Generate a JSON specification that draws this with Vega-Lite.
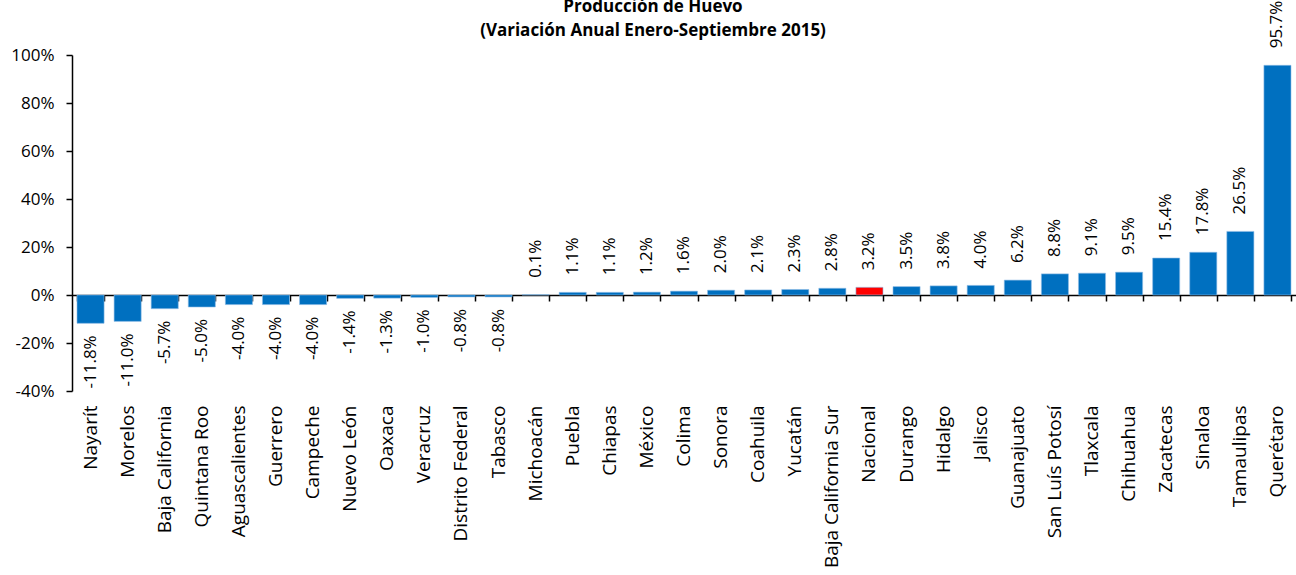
{
  "$schema": "https://vega.github.io/schema/vega-lite/v6.json",
  "width": 1224,
  "height": 336,
  "autosize": {"type": "none"},
  "padding": {"left": 72, "top": 55, "right": 0, "bottom": 184},
  "background": "white",
  "title": {
    "text": ["Producción de Huevo", "(Variación Anual Enero-Septiembre 2015)"],
    "font": "Open Sans",
    "fontSize": 17,
    "fontWeight": "bold",
    "color": "black",
    "anchor": "middle",
    "dx": -31,
    "offset": -39,
    "lineHeight": 24
  },
  "config": {
    "view": {"stroke": null},
    "font": "Open Sans",
    "locale": {"number": {"decimal": ".", "thousands": ",", "grouping": [3], "currency": ["$", ""], "minus": "-"}}
  },
  "data": {
    "values": [
      {"estado": "Nayarít", "valor": -0.118, "tipo": "estado"},
      {"estado": "Morelos", "valor": -0.110, "tipo": "estado"},
      {"estado": "Baja California", "valor": -0.057, "tipo": "estado"},
      {"estado": "Quintana Roo", "valor": -0.050, "tipo": "estado"},
      {"estado": "Aguascalientes", "valor": -0.040, "tipo": "estado"},
      {"estado": "Guerrero", "valor": -0.040, "tipo": "estado"},
      {"estado": "Campeche", "valor": -0.040, "tipo": "estado"},
      {"estado": "Nuevo León", "valor": -0.014, "tipo": "estado"},
      {"estado": "Oaxaca", "valor": -0.013, "tipo": "estado"},
      {"estado": "Veracruz", "valor": -0.010, "tipo": "estado"},
      {"estado": "Distrito Federal", "valor": -0.008, "tipo": "estado"},
      {"estado": "Tabasco", "valor": -0.008, "tipo": "estado"},
      {"estado": "Michoacán", "valor": 0.001, "tipo": "estado"},
      {"estado": "Puebla", "valor": 0.011, "tipo": "estado"},
      {"estado": "Chiapas", "valor": 0.011, "tipo": "estado"},
      {"estado": "México", "valor": 0.012, "tipo": "estado"},
      {"estado": "Colima", "valor": 0.016, "tipo": "estado"},
      {"estado": "Sonora", "valor": 0.020, "tipo": "estado"},
      {"estado": "Coahuila", "valor": 0.021, "tipo": "estado"},
      {"estado": "Yucatán", "valor": 0.023, "tipo": "estado"},
      {"estado": "Baja California Sur", "valor": 0.028, "tipo": "estado"},
      {"estado": "Nacional", "valor": 0.032, "tipo": "nacional"},
      {"estado": "Durango", "valor": 0.035, "tipo": "estado"},
      {"estado": "Hidalgo", "valor": 0.038, "tipo": "estado"},
      {"estado": "Jalisco", "valor": 0.040, "tipo": "estado"},
      {"estado": "Guanajuato", "valor": 0.062, "tipo": "estado"},
      {"estado": "San Luís Potosí", "valor": 0.088, "tipo": "estado"},
      {"estado": "Tlaxcala", "valor": 0.091, "tipo": "estado"},
      {"estado": "Chihuahua", "valor": 0.095, "tipo": "estado"},
      {"estado": "Zacatecas", "valor": 0.154, "tipo": "estado"},
      {"estado": "Sinaloa", "valor": 0.178, "tipo": "estado"},
      {"estado": "Tamaulipas", "valor": 0.265, "tipo": "estado"},
      {"estado": "Querétaro", "valor": 0.957, "tipo": "estado"}
    ]
  },
  "resolve": {"axis": {"x": "independent"}},
  "layer": [
    {
      "mark": {"type": "bar", "stroke": "#8fbce6", "strokeWidth": 0.6},
      "encoding": {
        "x": {
          "field": "estado", "type": "nominal", "sort": null,
          "scale": {"paddingInner": 0.27, "paddingOuter": 0.135},
          "axis": {
            "orient": "bottom", "title": null, "labelAngle": -90,
            "labelAlign": "right", "labelBaseline": "middle",
            "labelFontSize": 19, "labelColor": "black", "labelPadding": 14,
            "domain": false, "ticks": false, "labelOverlap": false
          }
        },
        "y": {
          "field": "valor", "type": "quantitative",
          "scale": {"domain": [-0.4, 1], "nice": false, "zero": true},
          "axis": {
            "values": [-0.4, -0.2, 0, 0.2, 0.4, 0.6, 0.8, 1],
            "format": ".0%", "title": null, "grid": false,
            "domainColor": "black", "domainWidth": 1.5,
            "tickColor": "black", "tickWidth": 1.5, "tickSize": 6,
            "labelFontSize": 17, "labelColor": "black", "labelPadding": 12
          }
        },
        "color": {
          "field": "tipo", "type": "nominal",
          "scale": {"domain": ["estado", "nacional"], "range": ["#0070C0", "#FF0000"]},
          "legend": null
        }
      }
    },
    {
      "transform": [{"filter": "datum.valor >= 0"}],
      "mark": {"type": "text", "angle": 270, "align": "left", "baseline": "middle", "dx": 17, "fontSize": 17, "color": "black"},
      "encoding": {
        "x": {
          "field": "estado", "type": "nominal", "sort": null,
          "axis": {
            "orient": "bottom", "title": null, "labels": false, "offset": -96,
            "domain": true, "domainColor": "black", "domainWidth": 1.5,
            "ticks": true, "tickBand": "extent", "tickColor": "black", "tickWidth": 1.5, "tickSize": 6
          }
        },
        "y": {"field": "valor", "type": "quantitative"},
        "text": {"field": "valor", "type": "quantitative", "format": ".1%"}
      }
    },
    {
      "transform": [{"filter": "datum.valor < 0"}],
      "mark": {"type": "text", "angle": 270, "align": "right", "baseline": "middle", "dx": -12, "fontSize": 17, "color": "black"},
      "encoding": {
        "x": {"field": "estado", "type": "nominal", "sort": null, "axis": null},
        "y": {"field": "valor", "type": "quantitative"},
        "text": {"field": "valor", "type": "quantitative", "format": ".1%"}
      }
    }
  ]
}
